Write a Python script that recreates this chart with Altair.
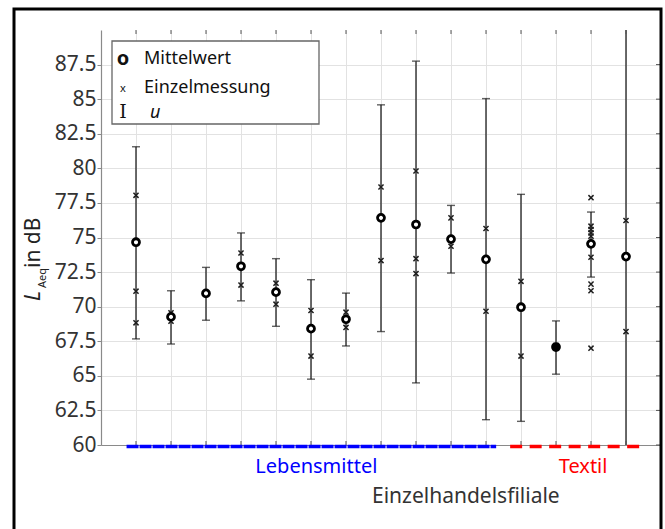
import altair as alt
import pandas as pd

# ---------------- data ----------------
positions = list(range(1, 16))
means = [74.66, 69.26, 70.96, 72.92, 71.05, 68.41, 69.09, 76.42, 75.94, 74.88,
         73.42, 69.96, 67.08, 74.54, 73.62]
u_upper = [81.56, 71.15, 72.84, 75.33, 73.47, 71.95, 70.98, 84.59, 87.75, 77.32,
           85.04, 78.12, 68.97, 76.84, 90.62]
u_lower = [67.67, 67.30, 69.02, 70.42, 68.58, 64.76, 67.16, 68.20, 64.49, 72.43,
           61.83, 61.71, 65.12, 72.14, 56.62]

meas_pos = [1, 1, 1, 2, 2, 3, 3, 4, 4, 5, 5, 6, 6, 7, 7, 8, 8, 9, 9, 9, 10, 10,
            11, 11, 12, 12, 13, 13, 14, 14, 14, 14, 14, 14, 14, 14, 14, 15, 15]
meas_val = [78.05, 71.12, 68.83, 69.55, 68.95, 71.0, 70.9, 73.88, 71.56, 71.7, 70.18,
            69.72, 66.43, 69.6, 68.5, 78.65, 73.33, 79.81, 73.47, 72.39, 76.42, 74.37,
            75.65, 69.67, 71.83, 66.43, 67.2, 67.0, 77.88, 75.82, 75.58, 75.33, 75.10,
            73.57, 71.63, 71.15, 67.0, 76.23, 68.2]

group_names = ["Lebensmittel", "Textil"]
group_start = [0.73, 11.69]
group_end = [11.29, 15.4]

y_ticks = [60, 62.5, 65, 67.5, 70, 72.5, 75, 77.5, 80, 82.5, 85, 87.5]

FONT = "Noto Sans"
INK = "#1e1e1e"

df = pd.DataFrame({"pos": positions, "mean": means, "hi": u_upper, "lo": u_lower})
dm = pd.DataFrame({"pos": meas_pos, "val": meas_val})
dg = pd.DataFrame({"name": group_names, "start": group_start, "end": group_end})
dg["mid"] = (dg["start"] + dg["end"]) / 2
dyt = pd.DataFrame({"y": y_ticks})
one = pd.DataFrame({"a": [0]})

xs = alt.Scale(domain=[0, 16], nice=False)
ys = alt.Scale(domain=[60, 90], nice=False)

X_AXIS = alt.Axis(values=positions, labels=False, ticks=False, grid=True,
                  gridColor="#e2e2e2", gridWidth=1, domainColor="#8a8a8a",
                  domainWidth=1.2, title=None)
Y_AXIS = alt.Axis(values=y_ticks, labelExpr="toString(datum.value)", grid=True,
                  gridColor="#e2e2e2", gridWidth=1, domainColor="#8a8a8a",
                  domainWidth=1.2, tickColor="#8a8a8a", tickSize=4, labelPadding=1,
                  labelOverlap=False, labelBound=False, labelFlush=False,
                  labelFont=FONT, labelFontSize=21, labelColor="#333333",
                  title=None)


def X(f):
    return alt.X(f, type="quantitative", scale=xs, axis=X_AXIS)


def Y(f):
    return alt.Y(f, type="quantitative", scale=ys, axis=Y_AXIS)


W, H = 560, 415

base = alt.Chart(df)

err = base.mark_rule(color=INK, strokeWidth=1.3, clip=True).encode(
    x=X("pos"), y=Y("lo"), y2="hi:Q")
cap_hi = base.mark_tick(orient="horizontal", size=8, thickness=1.4, color=INK,
                        clip=True).encode(x=X("pos"), y=Y("hi"))
cap_lo = base.mark_tick(orient="horizontal", size=8, thickness=1.4, color=INK,
                        clip=True).encode(x=X("pos"), y=Y("lo"))

meas = alt.Chart(dm).mark_point(shape="M-1,-1L1,1M-1,1L1,-1", size=26, strokeWidth=1.5,
                                color=INK, filled=False, opacity=1).encode(
    x=X("pos"), y=Y("val"))

mean_pts = base.mark_point(shape="circle", size=48, strokeWidth=2.8, stroke="black",
                           filled=True, opacity=1).encode(
    x=X("pos"), y=Y("mean"),
    fill=alt.condition("datum.pos == 13", alt.value("black"), alt.value("white")))

# inward tick marks (bottom, top, right)
tick_bottom = base.mark_rule(color="#555555", strokeWidth=1).encode(
    x=X("pos"), y=alt.value(H - 4), y2=alt.value(H))
tick_top = base.mark_rule(color="#555555", strokeWidth=1).encode(
    x=X("pos"), y=alt.value(0), y2=alt.value(4))
tick_right = alt.Chart(dyt).mark_rule(color="#555555", strokeWidth=1).encode(
    y=Y("y"), x=alt.value(W - 5), x2=alt.value(W))

# group lines
leb_line = alt.Chart(dg).transform_filter("datum.name == 'Lebensmittel'").mark_rule(
    color="#0000ff", strokeWidth=3.5, strokeDash=[12, 1]).encode(
    x=X("start"), x2="end:Q", y=alt.value(H + 1.5))
tex_line = alt.Chart(dg).transform_filter("datum.name == 'Textil'").mark_rule(
    color="#ff0000", strokeWidth=3.5, strokeDash=[12, 7.5]).encode(
    x=X("start"), x2="end:Q", y=alt.value(H + 1.5))

leb_text = alt.Chart(dg).transform_filter("datum.name == 'Lebensmittel'").mark_text(
    font=FONT, fontSize=20, color="#0000ff", align="center", baseline="alphabetic", dx=5).encode(
    x=X("mid"), y=alt.value(443), text="name:N")
tex_text = alt.Chart(dg).transform_filter("datum.name == 'Textil'").mark_text(
    font=FONT, fontSize=20, color="#ff0000", align="center", baseline="alphabetic", dx=8).encode(
    x=X("mid"), y=alt.value(443), text="name:N")

oc = alt.Chart(one)
xtitle = oc.mark_text(font=FONT, fontSize=21, color="#333333", align="left",
                      baseline="alphabetic", text="Einzelhandelsfiliale").encode(
    x=alt.value(271), y=alt.value(473))

# y title: L_Aeq in dB (rotated)
yt_L = oc.mark_text(font=FONT, fontSize=21, fontStyle="italic", color="#222222", angle=270,
                    align="left", baseline="alphabetic", text="L").encode(
    x=alt.value(-61), y=alt.value(271))
yt_sub = oc.mark_text(font=FONT, fontSize=11, color="#222222", angle=270,
                      align="left", baseline="alphabetic", text="Aeq").encode(
    x=alt.value(-55), y=alt.value(258))
yt_rest = oc.mark_text(font=FONT, fontSize=21, color="#222222", angle=270,
                       align="left", baseline="alphabetic", text="in dB").encode(
    x=alt.value(-61), y=alt.value(238))

# legend
leg_box = oc.mark_rect(fill="white", stroke="#666666", strokeWidth=1.3).encode(
    x=alt.value(11), x2=alt.value(218), y=alt.value(11), y2=alt.value(94))
leg_o = oc.mark_text(font=FONT, fontSize=20, fontWeight="bold", color="#111111", align="center",
                     baseline="alphabetic", text="o").encode(x=alt.value(22), y=alt.value(35))
leg_x = oc.mark_text(font=FONT, fontSize=11, color="#111111", align="center",
                     baseline="alphabetic", text="x").encode(x=alt.value(22), y=alt.value(62))
leg_i = oc.mark_text(font="DejaVu Serif", fontSize=19, color="#111111", align="center",
                     baseline="alphabetic", text="I").encode(x=alt.value(22), y=alt.value(88))
leg_t1 = oc.mark_text(font=FONT, fontSize=18, color="#111111", align="left",
                      baseline="alphabetic", text="Mittelwert").encode(x=alt.value(43), y=alt.value(34))
leg_t2 = oc.mark_text(font=FONT, fontSize=18, color="#111111", align="left",
                      baseline="alphabetic", text="Einzelmessung").encode(x=alt.value(43), y=alt.value(63))
leg_t3 = oc.mark_text(font=FONT, fontSize=18, fontStyle="italic", color="#111111", align="left",
                      baseline="alphabetic", text="u").encode(x=alt.value(49), y=alt.value(88))

frame = oc.mark_rect(fillOpacity=0, stroke="black", strokeWidth=3).encode(
    x=alt.value(-87), x2=alt.value(W), y=alt.value(-21), y2=alt.value(520))

chart = alt.layer(
    err, cap_hi, cap_lo, meas, mean_pts,
    tick_bottom, tick_top, tick_right,
    leb_line, tex_line, leb_text, tex_text, xtitle,
    yt_L, yt_sub, yt_rest,
    leg_box, leg_o, leg_x, leg_i, leg_t1, leg_t2, leg_t3,
    frame,
).properties(
    width=W, height=H,
    autosize=alt.AutoSizeParams(type="none"),
    padding={"left": 101, "top": 30, "right": 4, "bottom": 84},
    background="white",
).configure_view(stroke=None).configure_axis(labelOverlap=False)

chart.save("out.html", embed_options={"renderer": "svg", "actions": False})
